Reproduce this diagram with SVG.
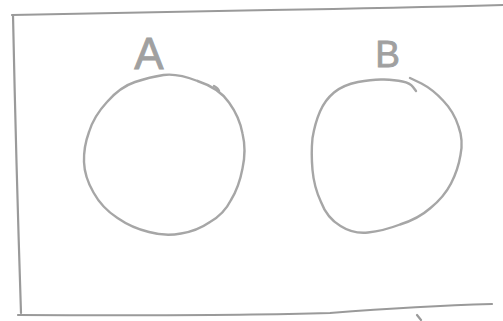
<svg xmlns="http://www.w3.org/2000/svg" width="503" height="321" viewBox="0 0 503 321">
  <style>
    .frame { fill: none; stroke: #9a9a9a; stroke-width: 2.2; stroke-linecap: round; stroke-linejoin: round; }
    .set { fill: none; stroke: #a6a6a6; stroke-width: 2.4; stroke-linecap: round; stroke-linejoin: round; }
    .label { font-family: "Liberation Sans", Arial, sans-serif; fill: #a0a0a0; stroke: #a0a0a0; stroke-width: 0.8; text-anchor: middle; }
  </style>
  <rect width="503" height="321" fill="#ffffff"/>
  <g id="universe">
    <path class="frame" d="M12,15 Q140,12 270,10 T503,5"/>
    <path class="frame" d="M13,15 Q16,160 21,313"/>
    <path class="frame" d="M18,315 Q230,316 330,313 Q420,306 492,304" stroke="#b4b4b4"/>
    <path class="frame" d="M417,315 L421,320" stroke="#b4b4b4" stroke-width="1.5"/>
  </g>
  <g id="set-A">
    <path class="set" d="M197.5,81 Q219,88 229,102.5 Q239.5,117 242.5,133.5 Q246.5,150 242.5,168.5 Q239,187 231,200 Q224,214 210,222 Q197,231 181,233.5 Q165,236.5 149,232 Q132,228 117.5,218 Q102,208 93.5,192.5 Q84.5,177 84,162 Q83.5,147 89,132 Q94,116 107,102 Q120,87 135,82 Q150,77 163.5,75 Q177,73 197.5,81"/>
    <path class="set" d="M214,86 Q218,88 219,91" stroke-width="1.6"/>
    <text class="label" x="149" y="69" font-size="44">A</text>
  </g>
  <g id="set-B">
    <path class="set" d="M416,91 L413,87 Q410,83 402.5,81.5 Q395,80 384,79.5 Q373,79 358,82 Q343,85 334,92.5 Q325,100 320,111.5 Q315,123 312.5,138 Q311,153 312.5,170 Q314,187 321,202 Q327,218 340.5,226 Q353,234 368,232.5 Q383,231 400,224.5 Q418,219 430.5,208 Q444,197 451,183.5 Q458,170 460.5,155 Q463.5,140 458.5,126.5 Q454,112 443.5,101 Q433,89.5 421.5,83.5 L410,78"/>
    <text class="label" x="387.5" y="67" font-size="37">B</text>
  </g>
</svg>
